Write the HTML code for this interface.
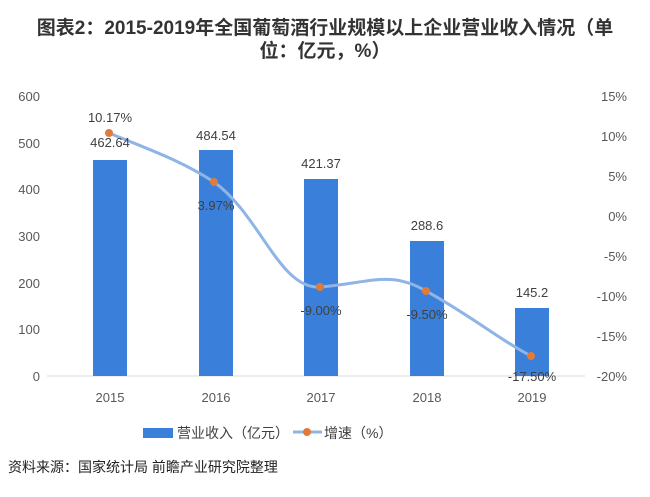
<!DOCTYPE html>
<html><head><meta charset="utf-8"><style>
body{margin:0;background:#fff;}
svg{display:block;font-family:"Liberation Sans","Noto Sans CJK SC",sans-serif;}
</style></head><body>
<svg width="650" height="497" viewBox="0 0 650 497">
<text x="325" y="34" text-anchor="middle" font-size="19" font-weight="bold" fill="#333">图表2：2015-2019年全国葡萄酒行业规模以上企业营业收入情况（单</text>
<text x="325" y="57" text-anchor="middle" font-size="19" font-weight="bold" fill="#333">位：亿元，%）</text>
<g font-size="13" fill="#595959">
<text x="40" y="101" text-anchor="end">600</text>
<text x="40" y="148" text-anchor="end">500</text>
<text x="40" y="194" text-anchor="end">400</text>
<text x="40" y="241" text-anchor="end">300</text>
<text x="40" y="288" text-anchor="end">200</text>
<text x="40" y="334" text-anchor="end">100</text>
<text x="40" y="381" text-anchor="end">0</text>
<text x="627" y="101" text-anchor="end">15%</text>
<text x="627" y="141" text-anchor="end">10%</text>
<text x="627" y="181" text-anchor="end">5%</text>
<text x="627" y="221" text-anchor="end">0%</text>
<text x="627" y="261" text-anchor="end">-5%</text>
<text x="627" y="301" text-anchor="end">-10%</text>
<text x="627" y="341" text-anchor="end">-15%</text>
<text x="627" y="381" text-anchor="end">-20%</text>
</g>
<line x1="47" y1="376" x2="585" y2="376" stroke="#d9d9d9" stroke-width="1"/>
<g fill="#3a7fd9">
<rect x="93" y="160" width="34" height="216"/>
<rect x="199" y="150" width="34" height="226"/>
<rect x="304" y="179" width="34" height="197"/>
<rect x="410" y="241" width="34" height="135"/>
<rect x="515" y="308" width="34" height="68"/>
</g>
<path d="M109,133 C150,150 180,160 214,182 C260,215 280,290 320,287 C370,283 390,270 426,291 C470,315 500,340 531,356" fill="none" stroke="#8fb4e6" stroke-width="3"/>
<g fill="#e07b39">
<circle cx="109" cy="133" r="4"/><circle cx="214" cy="182" r="4"/><circle cx="320" cy="287" r="4"/><circle cx="426" cy="291" r="4"/><circle cx="531" cy="356" r="4"/>
</g>
<g font-size="13" fill="#404040" text-anchor="middle">
<text x="110" y="122">10.17%</text>
<text x="110" y="147">462.64</text>
<text x="216" y="140">484.54</text>
<text x="216" y="210">3.97%</text>
<text x="321" y="168">421.37</text>
<text x="321" y="315">-9.00%</text>
<text x="427" y="230">288.6</text>
<text x="427" y="319">-9.50%</text>
<text x="532" y="297">145.2</text>
<text x="532" y="381">-17.50%</text>
</g>
<g font-size="13" fill="#595959" text-anchor="middle">
<text x="110" y="402">2015</text><text x="216" y="402">2016</text><text x="321" y="402">2017</text><text x="427" y="402">2018</text><text x="532" y="402">2019</text>
</g>
<rect x="143" y="428" width="30" height="10" fill="#3a7fd9"/>
<text x="177" y="438" font-size="14" fill="#404040">营业收入（亿元）</text>
<line x1="293" y1="432" x2="322" y2="432" stroke="#8fb4e6" stroke-width="3"/>
<circle cx="307" cy="432" r="4" fill="#e07b39"/>
<text x="324" y="438" font-size="14" fill="#404040">增速（%）</text>
<text x="8" y="472" font-size="14" fill="#222">资料来源：国家统计局 前瞻产业研究院整理</text>
</svg>
</body></html>
